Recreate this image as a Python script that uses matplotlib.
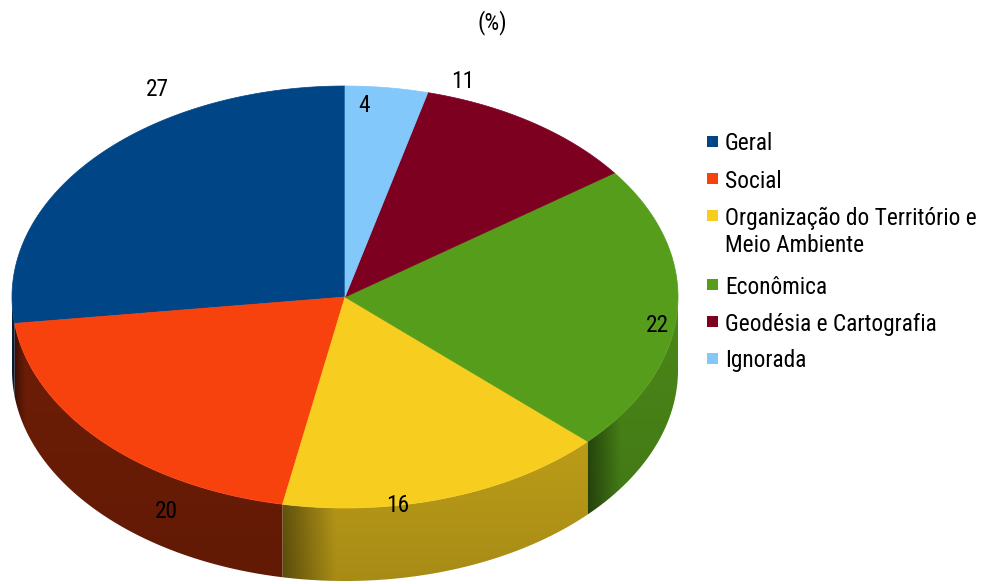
import numpy as np
import matplotlib
matplotlib.use('Agg')
import matplotlib.pyplot as plt
from matplotlib.patches import Polygon, Rectangle
from matplotlib.colors import to_rgb

# ---- data ----
categories = ['Geral', 'Social', 'Organização do Território e\nMeio Ambiente',
              'Econômica', 'Geodésia e Cartografia', 'Ignorada']
values = [27, 20, 16, 22, 11, 4]
value_labels = ['27', '20', '16', '22', '11', '4']
title = '(%)'

# ---- style ----
colors = ['#004586', '#f8420e', '#f7ce20', '#579d1c', '#7e0021', '#83c8fa']
label_pos = [(157, 90), (166, 512), (398, 505), (657, 325), (463, 81), (364, 106)]
FONT = ['Roboto Condensed', 'DejaVu Sans Condensed', 'Liberation Sans', 'DejaVu Sans']
FS = 16.8

W, H = 983, 584
fig = plt.figure(figsize=(W / 100, H / 100), dpi=100)
ax = fig.add_axes([0, 0, 1, 1])
ax.set_xlim(0, W)
ax.set_ylim(H, 0)
ax.axis('off')

cx, cy, rx, ry, depth = 345, 297, 333, 211, 73


def ell(theta_deg, dy=0.0):
    t = np.radians(theta_deg)
    return cx + rx * np.cos(t), cy - ry * np.sin(t) + dy


vals = np.array(values, dtype=float)
fr = vals / vals.sum()
starts = 90 + 360 * np.concatenate([[0], np.cumsum(fr)[:-1]])
ends = starts + 360 * fr

# ---- sides (front half only), shaded with clipped gradient images ----
for a0, a1, col in zip(starts, ends, colors):
    base = np.array(to_rgb(col))
    for lo, hi in [(180, 360), (540, 720)]:
        s, e = max(a0, lo), min(a1, hi)
        if e <= s:
            continue
        mid = (s + e) / 2
        f = 0.42 + 0.4 * max(0.0, np.cos(np.radians(mid - 330)))
        ts = np.linspace(s, e, 200)
        xt, yt = ell(ts)
        poly_pts = list(zip(xt, yt)) + list(zip(xt[::-1], yt[::-1] + depth))
        poly = Polygon(poly_pts, closed=True, facecolor='none', edgecolor='none')
        ax.add_patch(poly)
        xmin, xmax = xt.min() - 1, xt.max() + 1
        ymin, ymax = yt.min() - 1, yt.max() + depth + 1
        nx, ny = 300, 60
        xs = np.linspace(xmin, xmax, nx)
        ang = 360 - np.degrees(np.arccos(np.clip((xs - cx) / rx, -1, 1)))
        ang = ang + (lo - 180)
        ramp = np.ones_like(ang)
        if s > lo:
            d = ang - s
            ramp = 0.55 + 0.45 * np.clip(d / 9.0, 0, 1)
        vert = np.linspace(1.06, 0.94, ny)
        img = base[None, None, :] * f * ramp[None, :, None] * vert[:, None, None]
        img = np.clip(img, 0, 1)
        im = ax.imshow(img, extent=[xmin, xmax, ymax, ymin], aspect='auto',
                       interpolation='bilinear', zorder=1)
        im.set_clip_path(poly)

# ---- top faces ----
for a0, a1, col in zip(starts, ends, colors):
    ts = np.linspace(a0, a1, 200)
    xs, ys = ell(ts)
    pts = [(cx, cy)] + list(zip(xs, ys))
    ax.add_patch(Polygon(pts, closed=True, facecolor=col, edgecolor=col,
                         linewidth=0.5, zorder=2))

# ---- value labels ----
for lab, (lx, ly) in zip(value_labels, label_pos):
    ax.text(lx, ly, lab, ha='center', va='center', fontsize=FS,
            family=FONT, color='black', zorder=3)

# ---- title ----
ax.text(492, 23, title, ha='center', va='center', fontsize=FS,
        family=FONT, color='black')

# ---- legend ----
y = 142
for cat, col in zip(categories, colors):
    ax.add_patch(Rectangle((707, y - 6), 11, 11, facecolor=col, edgecolor='none'))
    lines = cat.split('\n')
    for j, line in enumerate(lines):
        ax.text(725, y + 2 + 28 * j, line, ha='left', va='center', fontsize=FS,
                family=FONT, color='black')
    y += 37 + 32 * (len(lines) - 1)

ax.set_xlim(0, W)
ax.set_ylim(H, 0)
fig.savefig('out.png', dpi=100)
